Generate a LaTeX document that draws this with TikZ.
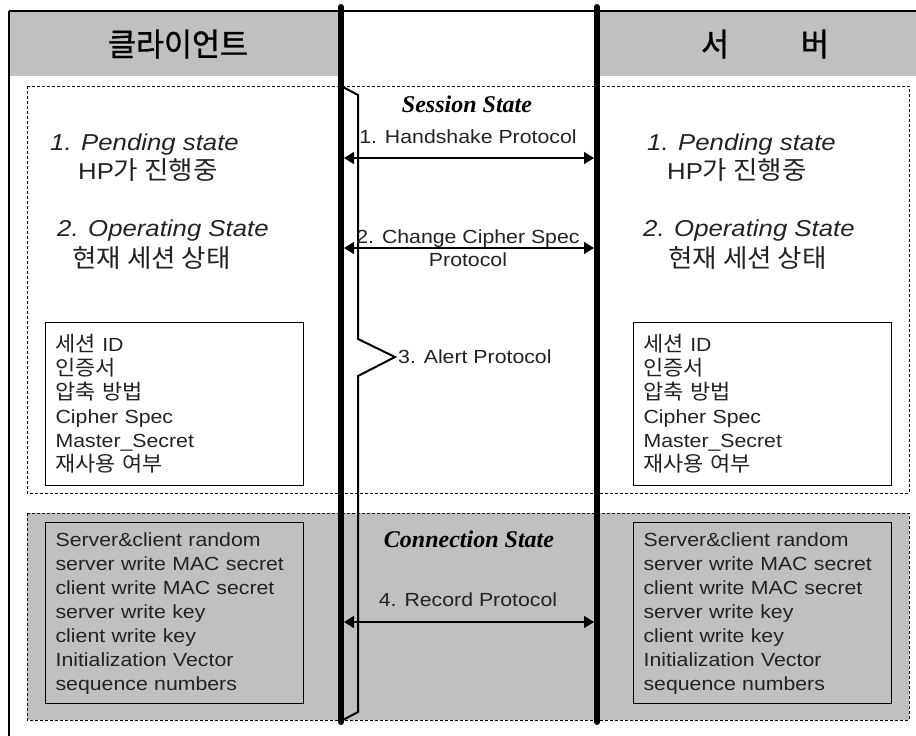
\documentclass[tikz,border=0pt]{standalone}
\usepackage{fontspec}
\setmainfont{Liberation Sans}[FakeStretch=1.12]
\newfontfamily\kr{Noto Sans CJK KR}[Scale=1.1,FakeStretch=1.05]
\newfontfamily\krhead{Noto Sans CJK KR}[FakeStretch=0.95,FakeBold=1]
\newfontfamily\tms{Liberation Serif}
\usetikzlibrary{arrows.meta}
\definecolor{panelgray}{HTML}{C0C0C0}
\definecolor{inkgray}{HTML}{222222}
\tikzset{
  lifeline/.style={line width=6pt, line cap=round},
  msg/.style={line width=1.5pt,
    {Triangle[length=10pt,width=12pt]}-{Triangle[length=10pt,width=12pt]}},
  dashbox/.style={draw, line width=1pt, dash pattern=on 3pt off 2pt},
  infobox/.style={draw, line width=1.2pt, anchor=north west, text=inkgray,
    minimum height=163pt, text width=238pt, inner xsep=10pt, inner ysep=0pt,
    align=left, font=\fontsize{19}{24}\selectfont},
  connbox/.style={infobox, minimum height=181pt},
  statetext/.style={anchor=west, text=inkgray, font=\fontsize{23}{26}\selectfont, inner sep=0pt},
  heading/.style={font=\krhead\fontsize{32}{34}\selectfont},
  sectiontitle/.style={font=\tms\bfseries\itshape\fontsize{24}{26}\selectfont},
  msglabel/.style={text=inkgray, font=\fontsize{19}{23}\selectfont, align=center, inner sep=0pt},
}
\begin{document}
\begin{tikzpicture}[x=1pt,y=-1pt]
\useasboundingbox (0,0) rectangle (916,736);

% header bands
\fill[panelgray] (9,11) rectangle (341,76);
\fill[panelgray] (597,11) rectangle (916,76);
\draw[line width=2pt] (9,11) -- (916,11);
\draw[line width=2pt] (9,11) -- (9,736);
\node[heading] (client) at (178,44) {클라이언트};
\node[heading] (server) at (765,44) {서\hspace{72pt}버};

% session state region
\draw[dashbox] (27,86) rectangle (909,493);
\node[sectiontitle] (sess) at (467,104) {Session State};

% connection state region
\draw[dashbox, fill=panelgray] (27,513) rectangle (909,720);
\node[sectiontitle] (conn) at (469,539) {Connection State};

% client side state descriptions
\node[statetext] (cp1) at (50,145) {\itshape 1. Pending state};
\node[statetext] (cp2) at (78,170) {HP{\kr 가 진행중}};
\node[statetext] (co1) at (57,231) {\itshape 2. Operating State};
\node[statetext] (co2) at (72,258) {\kr 현재 세션 상태};

% server side state descriptions
\node[statetext] (sp1) at (647,145) {\itshape 1. Pending state};
\node[statetext] (sp2) at (667,170) {HP{\kr 가 진행중}};
\node[statetext] (so1) at (643,231) {\itshape 2. Operating State};
\node[statetext] (so2) at (668,258) {\kr 현재 세션 상태};

% session parameter boxes
\node[infobox] (csess) at (45,322) {{\kr 세션} ID\\{\kr 인증서}\\{\kr 압축 방법}\\Cipher Spec\\Master\_Secret\\{\kr 재사용 여부}};
\node[infobox] (ssess) at (633,322) {{\kr 세션} ID\\{\kr 인증서}\\{\kr 압축 방법}\\Cipher Spec\\Master\_Secret\\{\kr 재사용 여부}};

% connection parameter boxes
\node[connbox] (cconn) at (45,522) {Server\&client random\\server write MAC secret\\client write MAC secret\\server write key\\client write key\\Initialization Vector\\sequence numbers};
\node[connbox] (sconn) at (633,522) {Server\&client random\\server write MAC secret\\client write MAC secret\\server write key\\client write key\\Initialization Vector\\sequence numbers};

% brace grouping the session protocols
\coordinate (bTop) at (341,86);
\coordinate (bTip) at (395,357);
\coordinate (bBot) at (341,721);
\draw[line width=2pt, line join=miter] (bTop) -- (358,95) -- (358,339) -- (bTip)
  -- (358,376) -- (358,712) -- (bBot);
\node[msglabel, anchor=west] (alert) at ([xshift=3pt]bTip) {3. Alert Protocol};

% lifelines
\coordinate (cl0) at (341,7);
\coordinate (cl1) at (341,722);
\coordinate (sl0) at (597,7);
\coordinate (sl1) at (597,722);
\draw[lifeline] (cl0) -- (cl1);
\draw[lifeline] (sl0) -- (sl1);

% protocol messages
\coordinate (hsL) at (344,158);
\coordinate (hsR) at (594,158);
\draw[msg] (hsL) -- (hsR);
\node[msglabel] (hs) at (468,137) {1. Handshake Protocol};

\coordinate (ccsL) at (344,248);
\coordinate (ccsR) at (594,248);
\draw[msg] (ccsL) -- (ccsR);
\node[msglabel] (ccs) at (468,248) {2. Change Cipher Spec\\Protocol};

\coordinate (recL) at (344,622);
\coordinate (recR) at (594,622);
\draw[msg] (recL) -- (recR);
\node[msglabel] (rec) at (468,600) {4. Record Protocol};
\end{tikzpicture}
\end{document}
